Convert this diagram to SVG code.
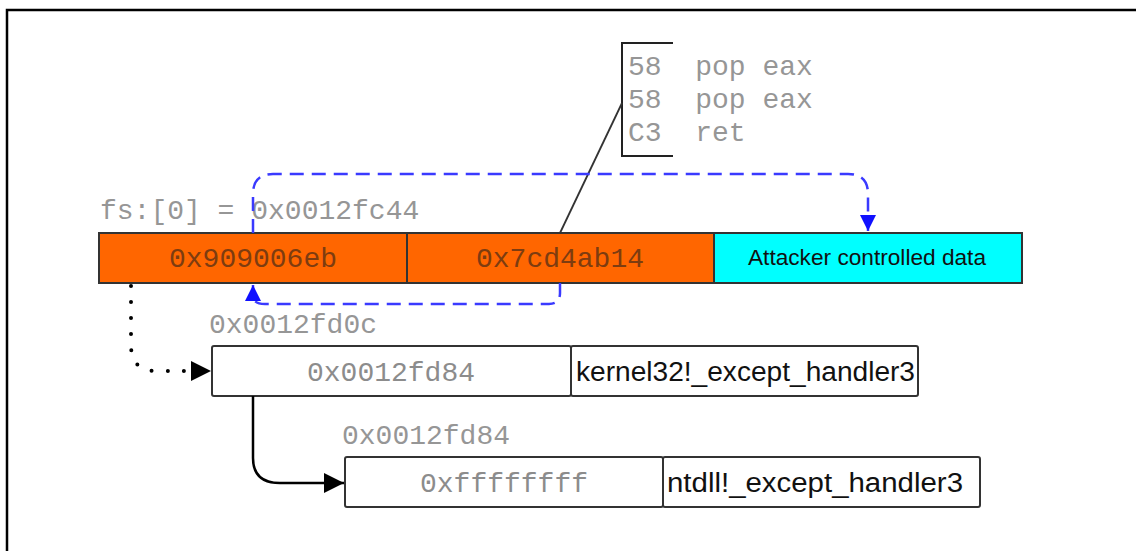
<svg xmlns="http://www.w3.org/2000/svg" width="1136" height="551" viewBox="0 0 1136 551">
  <style>
    .mono { font-family: "Liberation Mono", "Courier New", monospace; font-size: 28px; fill: #969696; }
    .cell-mono { font-family: "Liberation Mono", "Courier New", monospace; font-size: 28px; fill: #8c8c8c; text-anchor: middle; }
    .on-orange { fill: #7d3c10; }
    .sans { font-family: "Liberation Sans", Arial, sans-serif; fill: #111; }
    .cell { stroke: #333; stroke-width: 2; }
    .blue { fill: none; stroke: #3a3aff; stroke-width: 2.5; stroke-dasharray: 14 8; }
  </style>
  <defs>
    <marker id="blueHead" viewBox="0 0 10 10" refX="10" refY="5" markerWidth="16" markerHeight="16" markerUnits="userSpaceOnUse" orient="auto">
      <path d="M0,0 L10,5 L0,10 z" fill="#1010ff"/>
    </marker>
    <marker id="blackHead" viewBox="0 0 10 10" refX="10" refY="5" markerWidth="20" markerHeight="20" markerUnits="userSpaceOnUse" orient="auto">
      <path d="M0,0 L10,5 L0,10 z" fill="#000"/>
    </marker>
  </defs>

  <rect x="0" y="0" width="1136" height="551" fill="#fff"/>
  <!-- frame -->
  <polyline points="7,551 7,10 1136,10" fill="none" stroke="#000" stroke-width="2.5"/>

  <!-- gadget listing -->
  <g id="gadget">
    <polyline points="673,43 622,43 622,156 673,156" fill="none" stroke="#222" stroke-width="2"/>
    <text class="mono" x="628" y="75" xml:space="preserve">58  pop eax</text>
    <text class="mono" x="628" y="108" xml:space="preserve">58  pop eax</text>
    <text class="mono" x="628" y="141" xml:space="preserve">C3  ret</text>
  </g>

  <!-- SEH record on the stack (overwritten) -->
  <g id="record-overwritten">
    <text class="mono" x="100" y="219" xml:space="preserve">fs:[0] = 0x0012fc44</text>
    <rect class="cell" x="99" y="233" width="308" height="50" fill="#ff6600"/>
    <rect class="cell" x="407" y="233" width="307" height="50" fill="#ff6600"/>
    <rect class="cell" x="714" y="233" width="308" height="50" fill="#00ffff"/>
    <text class="cell-mono on-orange" x="253" y="267">0x909006eb</text>
    <text class="cell-mono on-orange" x="560" y="267">0x7cd4ab14</text>
    <text class="sans" x="867" y="265" font-size="22" text-anchor="middle" textLength="238" lengthAdjust="spacingAndGlyphs">Attacker controlled data</text>
  </g>

  <!-- next SEH record -->
  <g id="record-fd0c">
    <text class="mono" x="209" y="333">0x0012fd0c</text>
    <rect class="cell" x="212" y="346" width="359" height="50" fill="#fff" rx="2"/>
    <rect class="cell" x="571" y="346" width="347" height="50" fill="#fff" rx="2"/>
    <text class="cell-mono" x="391" y="381">0x0012fd84</text>
    <text class="sans" x="576" y="381" font-size="27" textLength="339" lengthAdjust="spacingAndGlyphs">kernel32!_except_handler3</text>
  </g>

  <!-- last SEH record -->
  <g id="record-fd84">
    <text class="mono" x="342" y="444">0x0012fd84</text>
    <rect class="cell" x="345" y="457" width="318" height="50" fill="#fff" rx="2"/>
    <rect class="cell" x="663" y="457" width="317" height="50" fill="#fff" rx="2"/>
    <text class="cell-mono" x="504" y="492">0xffffffff</text>
    <text class="sans" x="667" y="492" font-size="27" textLength="296" lengthAdjust="spacingAndGlyphs">ntdll!_except_handler3</text>
  </g>

  <g id="connectors">
    <!-- handler pointer to gadget -->
    <line x1="560" y1="233" x2="622" y2="103" stroke="#333" stroke-width="1.8"/>
    <!-- jump over into payload -->
    <path class="blue" d="M253,233 L253,194 Q253,174 273,174 L848,174 Q868,174 868,194 L868,231" marker-end="url(#blueHead)"/>
    <!-- return into the next-record field -->
    <path class="blue" d="M560,283 L560,293 Q560,304 549,304 L265,304 Q253,304 253,296 L253,285" marker-end="url(#blueHead)"/>
    <!-- chain links -->
    <path d="M131,286 L131,345 Q131,371 156,371 L211,371" fill="none" stroke="#000" stroke-width="4" stroke-linecap="round" stroke-dasharray="0 16" marker-end="url(#blackHead)"/>
    <path d="M253,396 L253,458 Q253,483 280,483 L344,483" fill="none" stroke="#000" stroke-width="2.5" marker-end="url(#blackHead)"/>
  </g>
</svg>
